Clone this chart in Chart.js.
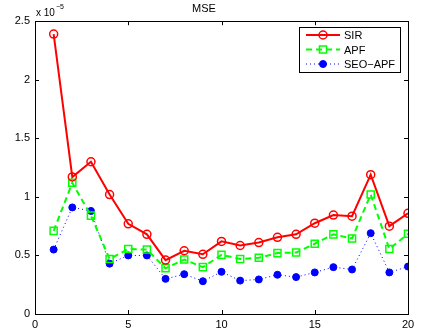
<!DOCTYPE html>
<html>
<head>
<meta charset="utf-8">
<script src="https://cdn.jsdelivr.net/npm/chart.js@4"></script>
<style>
  html, body { margin: 0; padding: 0; background: #fff; }
  #wrap { width: 421px; height: 336px; }
</style>
</head>
<body>
<div id="wrap"><canvas id="grafico" width="421" height="336"></canvas></div>
<script>
// ===== Data (units of 1e-5) =====
const steps = [1, 2, 3, 4, 5, 6, 7, 8, 9, 10, 11, 12, 13, 14, 15, 16, 17, 18, 19, 20];
const sir = [2.39, 1.17, 1.30, 1.02, 0.77, 0.68, 0.46, 0.54, 0.51, 0.62, 0.585, 0.61, 0.655, 0.68, 0.775, 0.845, 0.835, 1.19, 0.75, 0.86];
const apf = [0.71, 1.12, 0.84, 0.47, 0.555, 0.55, 0.39, 0.465, 0.40, 0.505, 0.47, 0.48, 0.52, 0.525, 0.60, 0.68, 0.645, 1.02, 0.555, 0.685];
const seoApf = [0.55, 0.91, 0.88, 0.43, 0.50, 0.50, 0.30, 0.34, 0.28, 0.36, 0.285, 0.295, 0.335, 0.315, 0.355, 0.40, 0.38, 0.69, 0.355, 0.405];
const xTicks = [0, 5, 10, 15, 20];
const yTicks = [0, 0.5, 1, 1.5, 2, 2.5];

const FONT = '"Liberation Sans", Arial, Helvetica, sans-serif';

function pontos(valores) {
  return steps.map((s, i) => ({ x: s, y: valores[i] }));
}

// ===== Plugin: moldura, ticks internos, legenda, expoente =====
const estiloMatlab = {
  id: 'estiloMatlab',
  afterDraw(chart) {
    const { ctx, chartArea: a, scales } = chart;
    const x = scales.x, y = scales.y;
    ctx.save();

    // moldura
    ctx.strokeStyle = '#000';
    ctx.lineWidth = 1;
    ctx.strokeRect(Math.round(a.left) + 0.5, Math.round(a.top) + 0.5,
      Math.round(a.right - a.left), Math.round(a.bottom - a.top));

    // ticks para dentro
    const t = 4;
    ctx.beginPath();
    xTicks.forEach(v => {
      const px = Math.round(x.getPixelForValue(v)) + 0.5;
      ctx.moveTo(px, a.bottom); ctx.lineTo(px, a.bottom - t);
      ctx.moveTo(px, a.top); ctx.lineTo(px, a.top + t);
    });
    yTicks.forEach(v => {
      const py = Math.round(y.getPixelForValue(v)) + 0.5;
      ctx.moveTo(a.left, py); ctx.lineTo(a.left + t, py);
      ctx.moveTo(a.right, py); ctx.lineTo(a.right - t, py);
    });
    ctx.stroke();

    // expoente do eixo y
    ctx.fillStyle = '#000';
    ctx.textBaseline = 'alphabetic';
    ctx.textAlign = 'left';
    ctx.font = '10px ' + FONT;
    const base = 'x 10';
    ctx.fillText(base, a.left + 1, a.top - 5);
    const bw = ctx.measureText(base).width;
    ctx.font = '7px ' + FONT;
    ctx.fillText('\u22125', a.left + 2 + bw, a.top - 12);

    // legenda
    const lx = 299, ly = 27, lw = 101, lh = 45;
    ctx.fillStyle = '#fff';
    ctx.fillRect(lx, ly, lw, lh);
    ctx.strokeStyle = '#000';
    ctx.lineWidth = 1;
    ctx.strokeRect(lx + 0.5, ly + 0.5, lw, lh);

    chart.data.datasets.forEach((ds, i) => {
      const cy = ly + 8 + i * 14.5;
      ctx.save();
      ctx.strokeStyle = ds.borderColor;
      ctx.lineWidth = ds.borderWidth;
      ctx.setLineDash(ds.borderDash || []);
      ctx.beginPath();
      ctx.moveTo(lx + 7, cy);
      ctx.lineTo(lx + 41, cy);
      ctx.stroke();
      ctx.setLineDash([]);
      ctx.fillStyle = ds.pointBackgroundColor;
      ctx.strokeStyle = ds.borderColor;
      ctx.lineWidth = ds.pointBorderWidth;
      ctx.beginPath();
      if (ds.pointStyle === 'rect') {
        const s = Math.SQRT1_2 * ds.pointRadius;
        ctx.rect(lx + 24 - s, cy - s, 2 * s, 2 * s);
      } else {
        ctx.arc(lx + 24, cy, ds.pointRadius, 0, Math.PI * 2);
      }
      ctx.fill();
      ctx.stroke();
      ctx.restore();

      ctx.fillStyle = '#000';
      ctx.font = '11px ' + FONT;
      ctx.textBaseline = 'middle';
      ctx.textAlign = 'left';
      ctx.fillText(ds.label, lx + 45, cy + 1);
    });

    ctx.restore();
  }
};

// ===== Chart =====
function criarGrafico() {
  return new Chart(document.getElementById('grafico'), {
    type: 'line',
    data: {
      datasets: [
        {
          label: 'SIR',
          data: pontos(sir),
          borderColor: '#ff0000',
          borderWidth: 2,
          pointStyle: 'circle',
          pointRadius: 4,
          pointBorderWidth: 1.5,
          pointBackgroundColor: 'rgba(255,255,255,0)',
          tension: 0
        },
        {
          label: 'APF',
          data: pontos(apf),
          borderColor: '#00ff00',
          borderWidth: 2,
          borderDash: [6, 4],
          pointStyle: 'rect',
          pointRadius: 5,
          pointBorderWidth: 1.5,
          pointBackgroundColor: 'rgba(255,255,255,0)',
          tension: 0
        },
        {
          label: 'SEO\u2212APF',
          data: pontos(seoApf),
          borderColor: '#0000ff',
          borderWidth: 1,
          borderDash: [1, 3],
          pointStyle: 'circle',
          pointRadius: 3.5,
          pointBorderWidth: 1,
          pointBackgroundColor: '#0000ff',
          tension: 0
        }
      ]
    },
    options: {
      responsive: false,
      animation: false,
      layout: { padding: { top: 1, right: 13, left: 0, bottom: 0 } },
      plugins: {
        legend: { display: false },
        tooltip: { enabled: false },
        title: {
          display: true,
          text: 'MSE',
          color: '#000',
          font: { family: FONT, size: 11, weight: 'normal' },
          padding: { top: 1, bottom: 6 }
        }
      },
      scales: {
        x: {
          type: 'linear',
          min: 0,
          max: 20,
          afterBuildTicks: s => { s.ticks = xTicks.map(v => ({ value: v })); },
          afterFit: s => { s.height = 22; },
          grid: { display: false, drawTicks: false },
          border: { display: false },
          ticks: { color: '#000', padding: 4, font: { family: FONT, size: 11 } }
        },
        y: {
          min: 0,
          max: 2.5,
          afterBuildTicks: s => { s.ticks = yTicks.map(v => ({ value: v })); },
          afterFit: s => { s.width = 35; },
          grid: { display: false, drawTicks: false },
          border: { display: false },
          ticks: {
            color: '#000',
            padding: 5,
            font: { family: FONT, size: 11 },
            callback: v => String(v)
          }
        }
      }
    },
    plugins: [estiloMatlab]
  });
}

criarGrafico();
</script>
</body>
</html>
